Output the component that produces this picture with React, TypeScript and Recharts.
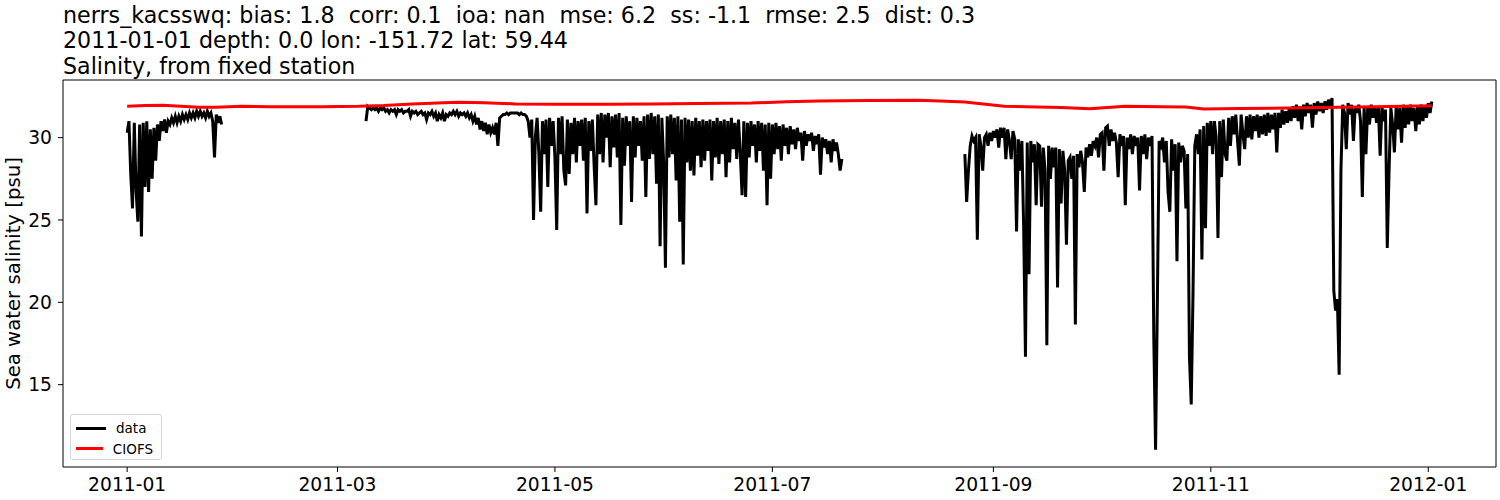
import { Legend, Line, LineChart, ReferenceLine, XAxis, YAxis } from "recharts"

// observed salinity, one reading every half day, three deployments
const obsStep = 0.5

const janStart = 0
const janValues = [
  30.3, 31.0, 27.8, 25.7, 30.9, 26.8, 24.9, 30.8, 24.0, 30.9,
  27.0, 31.0, 26.7, 30.5, 27.5, 30.6, 28.6, 30.8, 29.8, 31.0,
  30.4, 31.1, 30.3, 31.0, 30.8, 31.2, 30.9, 31.3, 30.9, 31.3,
  31.0, 31.4, 31.1, 31.4, 31.1, 31.5, 31.2, 31.5, 31.2, 31.6,
  31.3, 31.6, 31.3, 31.5, 31.2, 31.6, 31.3, 31.5, 31.0, 28.8,
  31.4, 30.9, 31.3, 30.8,
]

const marStart = 67
const marValues = [
  31.0, 31.9, 31.8, 31.7, 31.8, 31.7, 31.8, 31.6, 31.8, 31.7,
  31.8, 31.6, 31.7, 31.5, 31.7, 31.6, 31.7, 31.4, 31.7, 31.6,
  31.7, 31.5, 31.6, 31.6, 31.7, 31.3, 31.6, 31.5, 31.6, 31.4,
  31.5, 31.6, 31.4, 31.5, 31.1, 31.5, 31.4, 31.6, 31.3, 31.5,
  31.0, 31.4, 31.2, 31.5, 31.0, 31.4, 31.3, 31.5, 31.4, 31.6,
  31.4, 31.6, 31.3, 31.5, 31.4, 31.5, 31.3, 31.5, 31.2, 31.4,
  31.0, 31.3, 30.8, 31.2, 30.5, 31.0, 30.4, 30.9, 30.2, 30.8,
  30.3, 30.6, 30.2, 30.9, 29.5, 31.2, 31.3, 31.4, 31.4, 31.5,
  31.4, 31.5, 31.5, 31.5, 31.5, 31.5, 31.4, 31.5, 31.4, 31.4,
  31.3, 31.0, 30.0, 31.1, 25.0, 30.0, 31.2, 29.0, 25.5, 31.0,
  29.0, 31.1, 27.0, 31.2, 29.5, 31.0, 28.8, 24.4, 31.2, 29.0,
  31.3, 28.0, 27.1, 31.1, 27.8, 30.9, 29.0, 31.2, 28.5, 31.0,
  29.5, 31.1, 28.6, 31.2, 25.4, 31.0, 29.2, 31.1, 28.3, 25.9,
  31.4, 29.0, 31.5, 28.5, 31.4, 30.0, 31.5, 28.2, 31.3, 29.4,
  31.4, 28.8, 31.5, 24.7, 31.2, 28.3, 31.3, 29.5, 31.0, 26.1,
  31.3, 28.8, 31.2, 29.5, 31.0, 28.6, 31.3, 26.4, 31.4, 28.7,
  31.5, 29.0, 31.3, 27.2, 31.4, 23.4, 31.2, 28.5, 22.1, 31.3,
  28.8, 31.4, 29.0, 31.2, 27.4, 31.3, 24.9, 31.1, 22.3, 31.2,
  28.5, 31.1, 28.0, 31.0, 27.7, 31.2, 28.9, 31.0, 28.2, 31.1,
  28.6, 31.0, 29.2, 31.1, 27.4, 31.0, 28.8, 31.2, 28.4, 31.0,
  29.0, 31.1, 27.6, 31.0, 28.5, 31.2, 29.3, 30.9, 28.7, 31.1,
  29.0, 26.5, 31.0, 26.4, 30.9, 28.8, 31.0, 29.5, 30.8, 28.5,
  31.0, 29.2, 30.9, 28.0, 30.8, 25.9, 30.9, 27.5, 30.8, 29.0,
  30.9, 29.3, 30.7, 28.6, 30.8, 29.5, 30.6, 29.0, 30.7, 29.6,
  30.5, 29.3, 30.6, 29.8, 30.3, 28.6, 30.4, 29.5, 30.2, 29.8,
  30.3, 29.2, 30.1, 29.6, 30.2, 27.75, 30.0, 29.4, 29.9, 29.0,
  29.8, 28.5, 29.9, 29.2, 29.7, 29.0, 28.0, 28.7,
]

const augStart = 235
const augValues = [
  29.0, 26.1, 28.0, 29.5, 30.1, 29.8, 30.0, 23.8, 30.2, 29.5,
  28.0, 30.0, 30.2, 29.5, 30.3, 29.8, 30.4, 30.0, 30.5, 29.4,
  30.6, 30.0, 30.6, 28.7, 30.5, 29.8, 28.7, 30.4, 29.9, 24.3,
  29.9, 28.0, 29.8, 24.5, 16.7, 29.7, 21.7, 29.8, 28.5, 29.6,
  25.9, 29.6, 29.5, 25.8, 29.4, 28.0, 17.4, 29.5, 27.5, 29.4,
  28.2, 29.4, 20.9, 29.3, 26.0, 29.2, 28.0, 23.5, 28.6, 28.8,
  27.5, 28.9, 18.65, 29.0, 28.2, 29.2, 28.5, 26.7, 29.4, 28.8,
  29.6, 28.9, 29.8, 29.5, 30.0, 28.8, 30.2, 30.3, 28.0, 30.6,
  30.7, 29.5, 30.5, 29.8, 30.3, 29.7, 27.6, 30.2, 29.5, 30.1,
  25.9, 30.0, 29.3, 30.2, 29.0, 30.1, 29.5, 30.0, 26.8, 30.1,
  29.0, 30.2, 28.7, 30.0, 29.5, 30.1, 17.9, 11.05, 20.0, 29.8,
  29.5, 30.0, 28.5, 29.8, 26.7, 25.5, 29.9, 28.0, 29.6, 22.5,
  29.7, 28.5, 29.5, 29.2, 25.7, 29.0, 16.7, 13.8, 20.5, 29.5,
  30.2, 29.0, 30.5, 22.6, 30.7, 24.5, 30.9, 29.5, 31.0, 29.0,
  31.0, 30.0, 23.9, 31.0, 27.6, 31.1, 29.0, 28.6, 31.2, 29.5,
  31.3, 30.2, 31.4, 29.8, 28.3, 31.4, 30.2, 29.3, 31.3, 30.0,
  31.4, 29.9, 31.3, 30.4, 31.4, 30.0, 31.3, 30.2, 31.4, 30.1,
  31.5, 30.3, 31.4, 30.5, 31.5, 29.1, 31.5, 30.6, 31.7, 30.8,
  31.6, 30.9, 31.8, 31.0, 31.9, 31.2, 32.0, 31.0, 31.9, 30.5,
  32.0, 31.3, 32.1, 31.5, 32.0, 30.6, 32.1, 31.4, 32.2, 31.6,
  32.1, 31.5, 32.2, 31.7, 32.3, 31.9, 32.4, 20.7, 19.5, 20.2,
  15.6, 28.0, 32.0, 31.5, 29.3, 32.1, 31.4, 32.0, 29.8, 31.9,
  31.5, 32.0, 31.0, 26.4, 31.9, 29.0, 31.8, 30.8, 32.0, 31.2,
  31.9, 30.9, 31.8, 28.9, 31.9, 31.0, 31.7, 23.3, 28.0, 31.8,
  30.8, 29.1, 31.9, 30.5, 31.8, 29.7, 32.0, 30.6, 31.9, 30.8,
  32.0, 31.0, 31.8, 30.4, 31.9, 30.8, 32.0, 31.0, 31.9, 31.2,
  32.1, 31.5, 32.2,
]

// CIOFS model salinity
const modelDays = [
  0, 5, 10, 15, 20, 25, 32, 40, 47, 55, 65, 72, 80, 87, 93, 100, 109, 120, 135, 147,
  160, 175, 185, 194, 208, 222, 228, 235, 246, 252, 262, 270, 280, 290, 297, 302, 312, 321, 335, 350, 366,
]
const modelValues = [
  31.9, 31.95, 31.96, 31.9, 31.84, 31.85, 31.9, 31.88, 31.87, 31.88,
  31.9, 31.95, 32.05, 32.1, 32.15, 32.12, 32.05, 32.03, 32.02, 32.05,
  32.07, 32.1, 32.18, 32.22, 32.25, 32.27, 32.22, 32.17, 31.9, 31.88,
  31.83, 31.76, 31.9, 31.88, 31.86, 31.74, 31.77, 31.78, 31.83, 31.88, 31.94,
]

// days since 2011-01-01
const xDomain = [-18, 384]
const yDomain = [10, 33.5]
const xTickDays = [0, 59, 120, 181, 243, 304, 365]
const xTickLabels = ["2011-01", "2011-03", "2011-05", "2011-07", "2011-09", "2011-11", "2012-01"]
const yTicks = [15, 20, 25, 30]

const titleLines = [
  "nerrs_kacsswq: bias: 1.8  corr: 0.1  ioa: nan  mse: 6.2  ss: -1.1  rmse: 2.5  dist: 0.3",
  "2011-01-01 depth: 0.0 lon: -151.72 lat: 59.44",
  "Salinity, from fixed station",
]
const seriesOrder = ["data", "CIOFS"]

const toPoints = (start: number, values: number[]) =>
  values.map((v, i) => ({ day: start + i * obsStep, value: v }))

const obsData = [
  ...toPoints(janStart, janValues),
  { day: 40, value: null },
  ...toPoints(marStart, marValues),
  { day: 215, value: null },
  ...toPoints(augStart, augValues),
]

const modelData = modelDays.map((d, i) => ({ day: d, value: modelValues[i] }))

const font = "'DejaVu Sans', sans-serif"
const tickStyle = { fill: "#000", fontSize: 18.7, fontFamily: font }

const renderLegend = (props: any) => {
  const items = [...props.payload].sort(
    (a: any, b: any) => seriesOrder.indexOf(a.value) - seriesOrder.indexOf(b.value)
  )
  return (
    <div
      style={{
        border: "1px solid #d5d5d5",
        borderRadius: 3,
        background: "rgba(255,255,255,0.8)",
        padding: "3px 8px 0 5px",
        fontFamily: font,
        fontSize: 13.5,
        width: 77,
        height: 41,
      }}
    >
      {items.map((entry: any) => (
        <div key={entry.value} style={{ display: "flex", alignItems: "center", height: 20.5 }}>
          <div style={{ width: 30, height: 3, background: entry.color, marginRight: 10 }} />
          <span style={{ color: "#000" }}>{entry.value}</span>
        </div>
      ))}
    </div>
  )
}

export default function App() {
  return (
    <div style={{ position: "absolute", left: 0, top: 0, width: 1500, height: 500, background: "#fff" }}>
      <LineChart width={1500} height={500} margin={{ top: 80, right: 4, bottom: 0, left: 8 }}>
        <XAxis
          type="number"
          dataKey="day"
          domain={xDomain}
          allowDataOverflow
          ticks={xTickDays}
          tickFormatter={(d) => xTickLabels[xTickDays.indexOf(d)]}
          height={33}
          tick={tickStyle}
          tickSize={5}
          tickMargin={6}
          tickLine={{ stroke: "#000" }}
          axisLine={{ stroke: "#000" }}
        />
        <YAxis
          type="number"
          domain={yDomain}
          allowDataOverflow
          ticks={yTicks}
          width={55}
          tick={tickStyle}
          tickSize={5}
          tickMargin={6}
          tickLine={{ stroke: "#000" }}
          axisLine={{ stroke: "#000" }}
        />
        {/* top and right spines */}
        <ReferenceLine y={yDomain[1]} stroke="#000" strokeWidth={1} ifOverflow="visible" />
        <ReferenceLine x={xDomain[1]} stroke="#000" strokeWidth={1} ifOverflow="visible" />
        <Line
          data={obsData}
          dataKey="value"
          name="data"
          type="linear"
          stroke="#000"
          strokeWidth={3}
          dot={false}
          connectNulls={false}
          isAnimationActive={false}
        />
        <Line
          data={modelData}
          dataKey="value"
          name="CIOFS"
          type="linear"
          stroke="#ff0000"
          strokeWidth={3}
          dot={false}
          isAnimationActive={false}
        />
        <Legend
          layout="horizontal"
          verticalAlign="middle"
          align="center"
          content={renderLegend}
          wrapperStyle={{ left: 70, top: 414, width: "auto" }}
        />
      </LineChart>
      <svg
        width={1500}
        height={500}
        style={{ position: "absolute", left: 0, top: 0, pointerEvents: "none" }}
        fontFamily={font}
      >
        {titleLines.map((line, i) => (
          <text
            key={i}
            x={63}
            y={22.5 + i * 25.5}
            fontSize={22.2}
            fill="#000"
            xmlSpace="preserve"
            style={{ whiteSpace: "pre" }}
          >
            {line}
          </text>
        ))}
        <text x={19.5} y={273.5} fontSize={19.7} fill="#000" textAnchor="middle" transform="rotate(-90, 19.5, 273.5)">
          Sea water salinity [psu]
        </text>
      </svg>
    </div>
  )
}
